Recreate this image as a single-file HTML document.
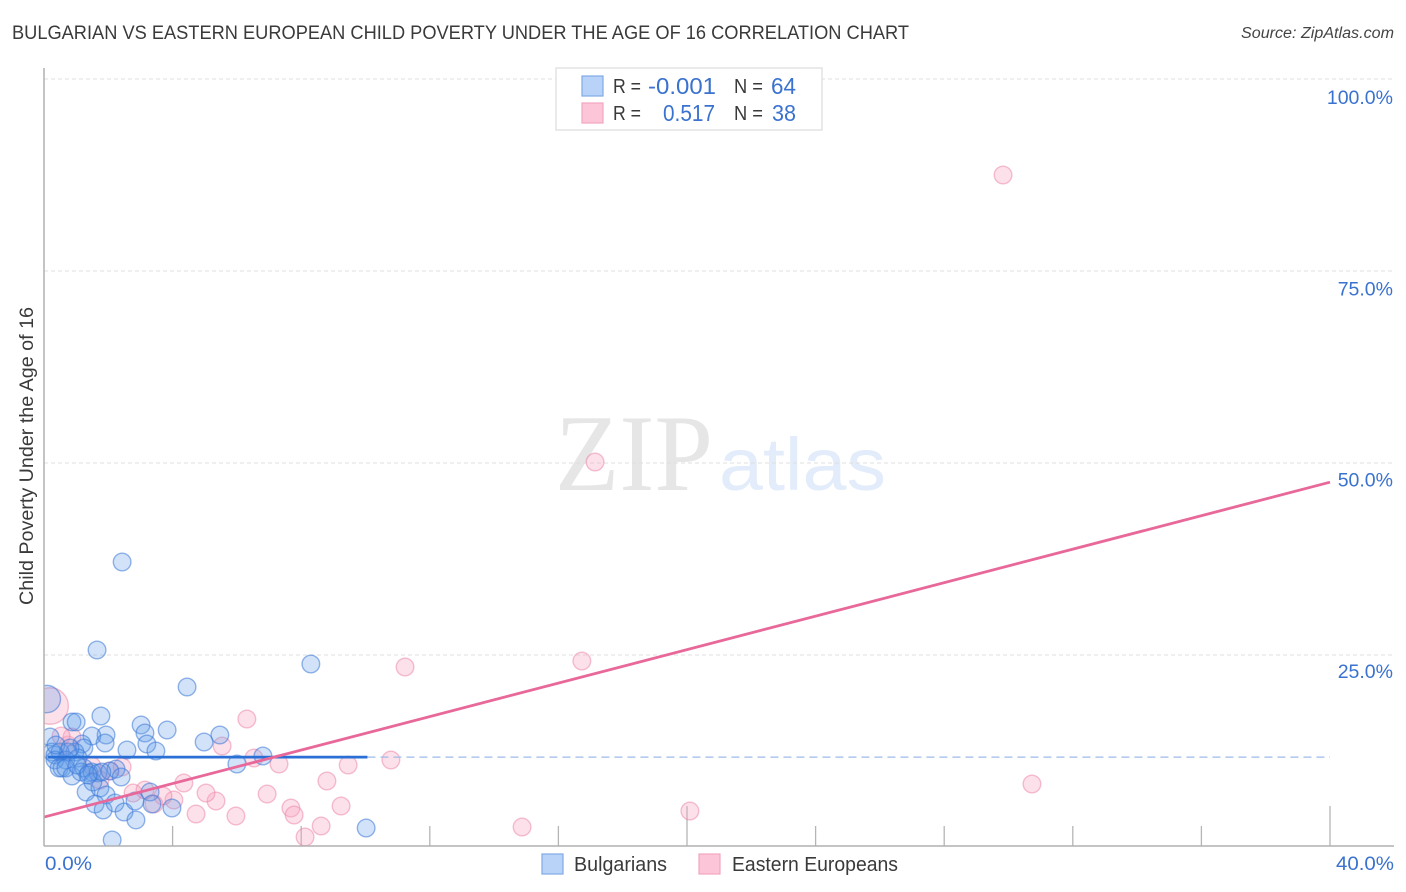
<!DOCTYPE html>
<html lang="en">
<head>
<meta charset="utf-8">
<title>Bulgarian vs Eastern European Child Poverty Correlation Chart</title>
<style>
html,body{margin:0;padding:0;background:#fff;width:1406px;height:892px;overflow:hidden}
svg{display:block;font-family:"Liberation Sans",sans-serif}
</style>
</head>
<body>
<svg id="chart" xmlns="http://www.w3.org/2000/svg" width="1406" height="892" viewBox="0 0 1406 892">
  <defs><clipPath id="plot-clip"><rect x="44" y="68" width="1350" height="778"/></clipPath></defs>
  <rect x="0" y="0" width="1406" height="892" fill="#fff"/>
  <text x="12" y="39" font-size="19" fill="#3a3a3a" textLength="897" lengthAdjust="spacingAndGlyphs">BULGARIAN VS EASTERN EUROPEAN CHILD POVERTY UNDER THE AGE OF 16 CORRELATION CHART</text>
  <text x="1241" y="38" font-size="15.5" font-style="italic" fill="#444" textLength="153" lengthAdjust="spacingAndGlyphs">Source: ZipAtlas.com</text>
  <g>
    <text x="555" y="490" font-family="'Liberation Serif',serif" font-size="109" fill="#e6e6e6" textLength="158" lengthAdjust="spacingAndGlyphs">ZIP</text>
    <text x="719" y="490" font-size="74" fill="#e2ecfa" textLength="167" lengthAdjust="spacingAndGlyphs">atlas</text>
  </g>
  <g id="grid"></g>
  <g id="ticks"></g>
  <g id="points" clip-path="url(#plot-clip)"></g>
  <g id="trends"></g>
  <line x1="44" y1="68" x2="44" y2="846" stroke="#b0b0b0" stroke-width="1.5"/>
  <line x1="44" y1="846" x2="1394" y2="846" stroke="#b0b0b0" stroke-width="1.5"/>
  <g id="labels"></g>
  <text transform="translate(33,456) rotate(-90)" font-size="19.5" fill="#3a3a3a" text-anchor="middle" textLength="298" lengthAdjust="spacingAndGlyphs">Child Poverty Under the Age of 16</text>

  <g>
    <rect x="556" y="68" width="266" height="62" fill="#fff" stroke="#dcdcdc" stroke-width="1.2"/>
    <rect x="582" y="76" width="21" height="20" fill="#b8d3f7" stroke="#7fabe6" stroke-width="1.2"/>
    <rect x="582" y="103" width="21" height="20" fill="#fcc6d8" stroke="#f3a5bf" stroke-width="1.2"/>
    <text x="613" y="93" font-size="20" fill="#3a3a3a" textLength="28" lengthAdjust="spacingAndGlyphs">R =</text>
    <text x="648" y="94" font-size="23" fill="#3a72cf" textLength="68" lengthAdjust="spacingAndGlyphs">-0.001</text>
    <text x="734" y="93" font-size="20" fill="#3a3a3a" textLength="29" lengthAdjust="spacingAndGlyphs">N =</text>
    <text x="771" y="94" font-size="23" fill="#3a72cf" textLength="25" lengthAdjust="spacingAndGlyphs">64</text>
    <text x="613" y="120" font-size="20" fill="#3a3a3a" textLength="28" lengthAdjust="spacingAndGlyphs">R =</text>
    <text x="663" y="121" font-size="23" fill="#3a72cf" textLength="52" lengthAdjust="spacingAndGlyphs">0.517</text>
    <text x="734" y="120" font-size="20" fill="#3a3a3a" textLength="29" lengthAdjust="spacingAndGlyphs">N =</text>
    <text x="772" y="121" font-size="23" fill="#3a72cf" textLength="24" lengthAdjust="spacingAndGlyphs">38</text>
  </g>

  <g>
    <rect x="542" y="854" width="21" height="20" fill="#b8d3f7" stroke="#7fabe6" stroke-width="1.2"/>
    <text x="574" y="871" font-size="20" fill="#3a3a3a" textLength="93" lengthAdjust="spacingAndGlyphs">Bulgarians</text>
    <rect x="699" y="854" width="21" height="20" fill="#fcc6d8" stroke="#f3a5bf" stroke-width="1.2"/>
    <text x="732" y="871" font-size="20" fill="#3a3a3a" textLength="166" lengthAdjust="spacingAndGlyphs">Eastern Europeans</text>
  </g>
</svg>
<script>
const bulgarianX = [0.09,2.43,1.65,4.45,8.30,10.02,2.12,1.77,0.87,1.00,3.02,3.83,3.14,1.93,1.49,1.90,3.20,2.58,3.48,4.98,5.47,6.00,6.81,0.19,0.25,0.34,1.18,1.24,0.96,0.75,0.50,1.06,0.68,0.34,0.47,0.56,0.68,0.87,1.24,1.15,1.40,1.49,1.68,2.05,2.24,2.40,1.31,1.74,1.93,1.52,1.59,1.84,2.21,2.49,2.83,2.86,3.30,3.36,3.98,0.37,0.81,1.80,1.03,1.37];
const bulgarianY = [19.27,37.11,25.65,20.83,23.83,2.47,0.91,17.06,16.28,16.28,15.89,15.23,14.84,14.58,14.45,13.54,13.41,12.63,12.50,13.67,14.58,10.81,11.85,14.32,12.37,11.98,13.41,12.89,12.37,12.37,12.37,11.59,11.33,11.33,10.29,10.29,10.29,9.24,10.29,9.77,9.64,9.77,9.64,9.90,10.16,9.11,7.16,7.68,6.77,8.46,5.60,4.82,5.73,4.56,5.99,3.52,7.16,5.60,5.08,13.28,12.89,9.77,10.68,9.38];
const bulgarianWeights = {0: 2.4};
const easternX = [0.19,29.83,17.14,16.73,11.23,6.31,5.54,7.31,6.53,10.79,9.46,8.80,6.94,9.24,7.68,7.78,8.62,8.12,5.97,5.35,5.04,4.35,4.73,4.04,2.77,3.14,3.70,3.42,2.43,2.05,1.49,0.75,0.87,0.53,14.87,20.09,30.73,1.74];
const easternY = [18.36,87.50,50.13,24.22,23.44,16.67,13.15,10.81,11.59,11.33,10.68,8.59,6.90,5.34,5.08,4.17,2.73,1.30,4.04,5.99,7.03,8.33,4.30,6.12,7.03,7.42,6.64,5.60,10.42,9.90,10.55,13.28,14.32,14.45,2.60,4.69,8.20,8.72];
const easternWeights = {0: 4.3};
const bulgarianTrend = {intercept: 11.7, slope: 0, start: 0.12, end: 10.06, refEnd: 40};
const easternTrend = {intercept: 3.9, slope: 1.09, start: 0, end: 40};
const yTickValues = [25, 50, 75, 100];
const yTickLabels = ['25.0%', '50.0%', '75.0%', '100.0%'];
const xMinorTicks = [4, 8, 12, 16, 24, 28, 32, 36];
const xMajorTicks = [20, 40];
const xEndValues = [0, 40];
const xEndLabels = ['0.0%', '40.0%'];

const NS = 'http://www.w3.org/2000/svg';
function sx(v) { return 44 + v * (1330 - 44) / 40; }
function sy(v) { return 847 - v * (847 - 79) / 100; }
function labelY(v) { return 104 + (100 - v) * 7.653; }
function make(tag, attrs, parent) {
  const el = document.createElementNS(NS, tag);
  for (const k in attrs) el.setAttribute(k, attrs[k]);
  document.getElementById(parent).appendChild(el);
  return el;
}

yTickValues.forEach(function (v, i) {
  const g = make('line', {x1: 44, x2: 1394, y1: sy(v), y2: sy(v), stroke: '#dfdfdf', 'stroke-width': 1, 'stroke-dasharray': '4 3'}, 'grid');
  
  
  const t = make('text', {x: 1393, y: labelY(v), 'font-size': 19.5, fill: '#3a72cf', 'text-anchor': 'end'}, 'labels');
  t.textContent = yTickLabels[i];
  
  
});

xMinorTicks.forEach(function (v) {
  const l = make('line', {x1: sx(v), x2: sx(v), y1: 826, y2: 846, stroke: '#b5b5b5', 'stroke-width': 1.3}, 'ticks');
  
  
});
xMajorTicks.forEach(function (v) {
  const l = make('line', {x1: sx(v), x2: sx(v), y1: 806, y2: 846, stroke: '#b5b5b5', 'stroke-width': 1.3}, 'ticks');
  
  
});
xEndValues.forEach(function (v, i) {
  const t = make('text', {x: v === 0 ? 45 : 1336, y: 870, 'font-size': 19.5, fill: '#3a72cf', textLength: v === 0 ? 47 : 58, lengthAdjust: 'spacingAndGlyphs'}, 'labels');
  t.textContent = xEndLabels[i];
  
  
});

easternX.forEach(function (x, i) {
  const w = easternWeights[i] || 1;
  const c = make('circle', {cx: sx(x), cy: sy(easternY[i]), r: 8.8 * Math.sqrt(w), fill: 'rgba(248,165,192,0.33)', stroke: 'rgba(236,130,165,0.5)', 'stroke-width': 1.4}, 'points');
  
  
});
bulgarianX.forEach(function (x, i) {
  const w = bulgarianWeights[i] || 1;
  const c = make('circle', {cx: sx(x), cy: sy(bulgarianY[i]), r: 8.8 * Math.sqrt(w), fill: 'rgba(95,155,235,0.28)', stroke: 'rgba(60,120,215,0.55)', 'stroke-width': 1.4}, 'points');
  
  
});

function trendY(tr, x) { return tr.intercept + tr.slope * x; }
const refLine = make('line', {x1: sx(bulgarianTrend.end), x2: sx(bulgarianTrend.refEnd), y1: sy(trendY(bulgarianTrend, bulgarianTrend.end)), y2: sy(trendY(bulgarianTrend, bulgarianTrend.refEnd)), stroke: '#9dbbe9', 'stroke-width': 1.2, 'stroke-dasharray': '8 5'}, 'trends');


const blueLine = make('line', {x1: sx(bulgarianTrend.start), x2: sx(bulgarianTrend.end), y1: sy(trendY(bulgarianTrend, bulgarianTrend.start)), y2: sy(trendY(bulgarianTrend, bulgarianTrend.end)), stroke: '#2a6fd6', 'stroke-width': 2.8}, 'trends');


const pinkLine = make('line', {x1: sx(easternTrend.start), x2: sx(easternTrend.end), y1: sy(trendY(easternTrend, easternTrend.start)), y2: sy(trendY(easternTrend, easternTrend.end)), stroke: '#e8689a', 'stroke-width': 2.8}, 'trends');


</script>
</body>
</html>
